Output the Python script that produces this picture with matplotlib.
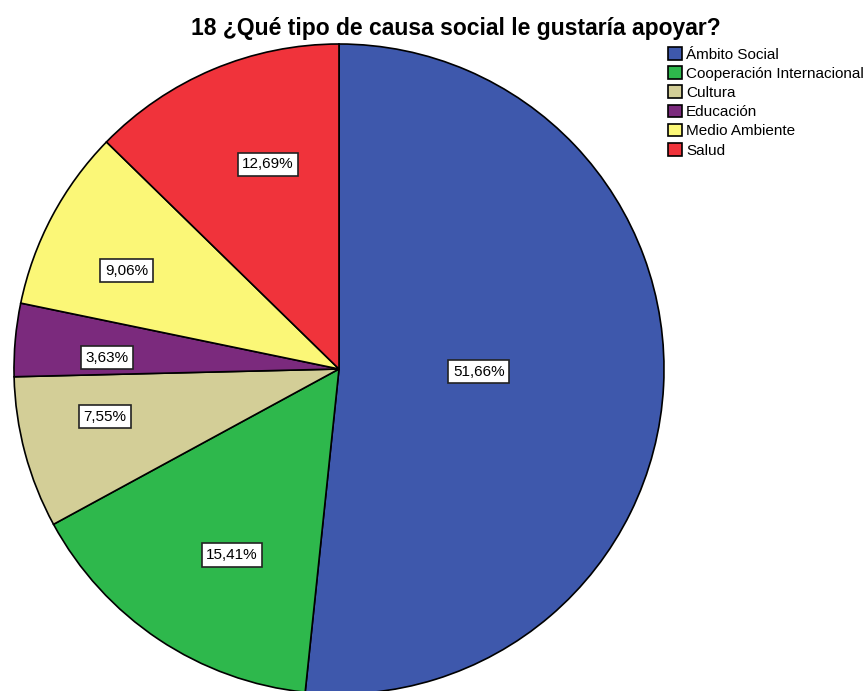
import matplotlib.pyplot as plt
import numpy as np

plt.rcParams['font.family'] = ['Liberation Sans', 'DejaVu Sans']

categorias = ['Ámbito Social', 'Cooperación Internacional', 'Cultura',
              'Educación', 'Medio Ambiente', 'Salud']
porcentajes = [51.66, 15.41, 7.55, 3.63, 9.06, 12.69]
colores = ['#3E58AC', '#2EB84C', '#D3CE97', '#7B2A7D', '#FBF777', '#F0333B']
# colocación de las etiquetas: distancia al centro (fracción del radio)
# y giro respecto al ángulo medio de cada sector (grados)
dist_etiqueta = [0.43, 0.66, 0.735, 0.715, 0.72, 0.667]
giro_etiqueta = [1.8, 3.8, -3.4, 2.4, 3.2, -3.7]

fig = plt.figure(figsize=(8.65, 6.91), dpi=100)
ax = fig.add_axes([14 / 865, -3 / 691, 650 / 865, 650 / 691])

wedges, _ = ax.pie(porcentajes, colors=colores, startangle=90,
                   counterclock=False,
                   wedgeprops=dict(edgecolor='black', linewidth=1.2))
ax.set_xlim(-1, 1)
ax.set_ylim(-1, 1)
ax.set_aspect('equal')

for w, p, d, g in zip(wedges, porcentajes, dist_etiqueta, giro_etiqueta):
    ang = np.deg2rad((w.theta1 + w.theta2) / 2 + g)
    ax.text(d * np.cos(ang), d * np.sin(ang), f'{p:.2f}%'.replace('.', ','),
            ha='center', va='center', fontsize=11,
            bbox=dict(boxstyle='square,pad=0.3', fc='white', ec='#222222', lw=1.2))

fig.text(0.527, 0.959, '18 ¿Qué tipo de causa social le gustaría apoyar?',
         ha='center', va='center', fontsize=16.5, fontweight='bold')

fig.legend(wedges, categorias, loc='upper left', bbox_to_anchor=(0.772, 0.932),
           frameon=False, fontsize=11, handlelength=0.9, handleheight=0.9,
           handletextpad=0.3, labelspacing=0.3, borderpad=0, borderaxespad=0)

fig.savefig('out.png', dpi=100)
